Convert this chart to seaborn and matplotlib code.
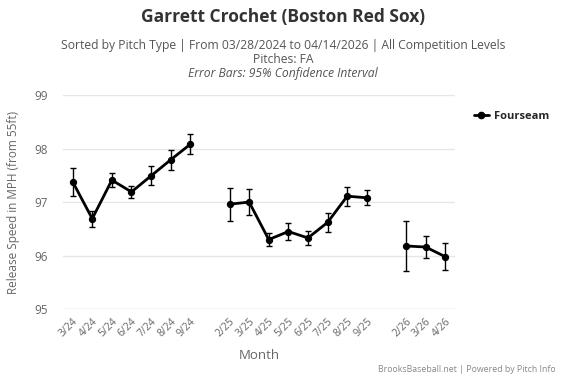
import numpy as np
import pandas as pd
import matplotlib
matplotlib.use("Agg")
import matplotlib.pyplot as plt
import seaborn as sns
from matplotlib.lines import Line2D

months = ["3/24", "4/24", "5/24", "6/24", "7/24", "8/24", "9/24", "",
          "2/25", "3/25", "4/25", "5/25", "6/25", "7/25", "8/25", "9/25", "",
          "2/26", "3/26", "4/26"]
speed = [97.38, 96.69, 97.41, 97.19, 97.49, 97.79, 98.08, np.nan,
         96.96, 97.00, 96.30, 96.45, 96.33, 96.62, 97.11, 97.08, np.nan,
         96.18, 96.16, 95.98]
ci = [0.26, 0.15, 0.13, 0.11, 0.18, 0.19, 0.19, np.nan,
      0.31, 0.25, 0.12, 0.16, 0.125, 0.18, 0.18, 0.14, np.nan,
      0.46, 0.21, 0.25]
yticks = [95, 96, 97, 98, 99]

sns.set_style("white")
plt.rcParams["font.family"] = ["Open Sans", "DejaVu Sans"]

df = pd.DataFrame({"month": months, "speed": speed, "ci": ci})
df["pos"] = np.arange(len(df))
df["seg"] = (df["month"] == "").cumsum()
dfp = df[df["month"] != ""]

fig = plt.figure(figsize=(5.66, 3.77), dpi=100)
ax = fig.add_axes([0.111, 0.180, 0.693, 0.568])

sns.lineplot(data=dfp, x="pos", y="speed", units="seg", estimator=None,
             color="black", linewidth=2, marker="o", markersize=4.5,
             markeredgecolor="black", ax=ax, legend=False)
ax.errorbar(dfp["pos"], dfp["speed"], yerr=dfp["ci"], fmt="none",
            ecolor="black", elinewidth=1, capsize=2.5, capthick=1)

ax.set_xlim(-0.5, len(months) - 0.5)
ax.set_ylim(95, 99)
ax.set_yticks(yticks)
ax.set_yticklabels([str(t) for t in yticks], fontsize=8.5, color="#666666")
ax.set_xticks(df["pos"])
ax.set_xticklabels(months, rotation=45, ha="right", rotation_mode="anchor",
                   fontsize=7.5, color="#666666")
ax.tick_params(axis="y", length=0, pad=11)
ax.tick_params(axis="x", length=0, pad=5)
for s in ax.spines.values():
    s.set_visible(False)
ax.grid(axis="y", color="#e6e6e6", linewidth=1)
ax.axhline(95, color="#d8d8d8", linewidth=1, zorder=0)
ax.set_axisbelow(True)
ax.set_xlabel("Month", fontsize=9.5, color="#666666", labelpad=7)
ax.set_ylabel("Release Speed in MPH (from 55ft)", fontsize=8.5, color="#666666")
ax.yaxis.set_label_coords(-0.11, 0.5)

fig.text(0.5, 0.955, "Garrett Crochet (Boston Red Sox)", ha="center", va="center",
         fontsize=12.5, fontweight="bold", color="#333333")
fig.text(0.5, 0.879, "Sorted by Pitch Type | From 03/28/2024 to 04/14/2026 | All Competition Levels",
         ha="center", va="center", fontsize=8.7, color="#555555")
fig.text(0.5, 0.842, "Pitches: FA", ha="center", va="center", fontsize=8.7, color="#555555")
fig.text(0.5, 0.805, "Error Bars: 95% Confidence Interval", ha="center", va="center",
         fontsize=8.7, color="#555555", style="italic")
fig.text(0.982, 0.020, "BrooksBaseball.net | Powered by Pitch Info", ha="right", va="center",
         fontsize=6.3, color="#888888")

handle = Line2D([0], [0], color="black", linewidth=2, marker="o", markersize=4.5)
fig.legend([handle], ["Fourseam"], loc="center left", bbox_to_anchor=(0.82, 0.69),
           frameon=False, handlelength=1.3, handletextpad=0.5,
           prop={"weight": "bold", "size": 8})

fig.savefig("out.png", dpi=100)
